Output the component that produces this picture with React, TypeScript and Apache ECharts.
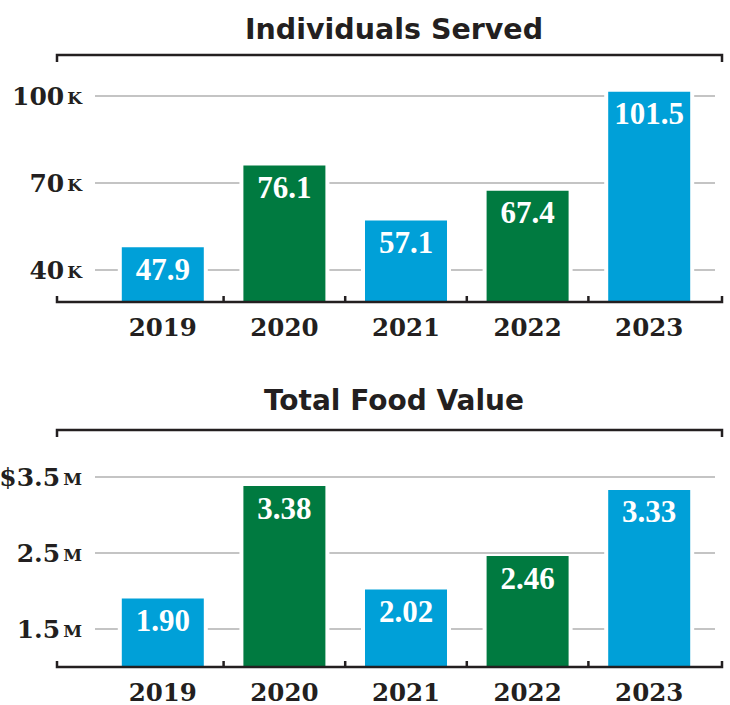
import React, { useEffect, useRef } from "react";
import * as echarts from "echarts";

const years = ["2019", "2020", "2021", "2022", "2023"];
const individualsServed = [47.9, 76.1, 57.1, 67.4, 101.5]; // thousands
const totalFoodValue = [1.9, 3.38, 2.02, 2.46, 3.33]; // millions $
const individualsTicks = [40, 70, 100];
const foodTicks = [1.5, 2.5, 3.5];

const BLUE = "#00a0d8";
const GREEN = "#007a40";
const DARK = "#231f20";
const GRID = "#c4c4c4";
const barColors = [BLUE, GREEN];

const SERIF = "DejaVu Serif";
const BARFONT = "Liberation Serif";
const TITLEFONT = "DejaVu Sans";

function barRenderer(decimals: number) {
  return (params: any, api: any) => {
    const idx = api.value(0);
    const val = api.value(1);
    const top = api.coord([idx, val]);
    const cs = params.coordSys;
    const baseY = cs.y + cs.height;
    const band = api.size([1, 0])[0];
    const children: any[] = [
      {
        type: "rect",
        shape: { x: top[0] - 45, y: top[1], width: 90, height: baseY - top[1] },
        style: { fill: "#fff" },
      },
      {
        type: "rect",
        shape: { x: top[0] - 41, y: top[1], width: 82, height: baseY - top[1] },
        style: { fill: barColors[idx % 2] },
      },
      {
        type: "text",
        x: top[0],
        y: top[1] + 22,
        style: {
          text: val.toFixed(decimals),
          fill: "#fff",
          fontFamily: BARFONT,
          fontWeight: "bold",
          fontSize: 31,
          align: "center",
          verticalAlign: "middle",
        },
      },
    ];
    if (idx > 0) {
      const bx = top[0] - band / 2;
      children.push({
        type: "line",
        shape: { x1: bx, y1: baseY - 6, x2: bx, y2: baseY },
        style: { stroke: DARK, lineWidth: 2.5 },
      });
    }
    return { type: "group", children };
  };
}

function gridRenderer(params: any, api: any) {
  const v = api.value(1);
  const p = api.coord([0, v]);
  const cs = params.coordSys;
  return {
    type: "line",
    shape: { x1: cs.x - 7, y1: p[1], x2: cs.x + cs.width + 5, y2: p[1] },
    style: { stroke: GRID, lineWidth: 2 },
  };
}

function frame(top: number, bottom: number) {
  return [
    {
      type: "polyline",
      shape: { points: [[57, top + 7], [57, top], [722, top], [722, top + 7]] },
      style: { stroke: DARK, lineWidth: 2.5, fill: null },
      z: 10,
    },
    {
      type: "polyline",
      shape: { points: [[57, bottom - 6], [57, bottom], [722, bottom], [722, bottom - 6]] },
      style: { stroke: DARK, lineWidth: 2.5, fill: null },
      z: 10,
    },
  ];
}

const TOP1 = 55, H1 = 247;
const TOP2 = 430, H2 = 237;
const MIN1 = 29, PX1 = 2.9;
const MIN2 = 1.0, PX2 = 76;

export default function App() {
  const ref = useRef<HTMLDivElement>(null);
  useEffect(() => {
    if (!ref.current) return;
    const chart = echarts.init(ref.current, null, { renderer: "svg" });
    const xAxisBase = {
      type: "category",
      data: years,
      axisLine: { show: false },
      axisTick: { show: false },
      axisLabel: {
        color: DARK,
        fontFamily: SERIF,
        fontWeight: "bold",
        fontSize: 24.5,
        lineHeight: 22,
        margin: 14,
      },
    };
    const yLabelRich = {
      n: { fontFamily: SERIF, fontWeight: "bold", fontSize: 25, color: DARK },
      u: { fontFamily: SERIF, fontWeight: "bold", fontSize: 17, color: DARK, padding: [3, 0, 0, 3] },
    };
    chart.setOption({
      animation: false,
      title: [
        {
          text: "Individuals Served",
          left: 389,
          top: 10,
          textAlign: "center",
          textStyle: { fontFamily: TITLEFONT, fontWeight: "bold", fontSize: 28.5, color: DARK },
        },
        {
          text: "Total Food Value",
          left: 389,
          top: 381,
          textAlign: "center",
          textStyle: { fontFamily: TITLEFONT, fontWeight: "bold", fontSize: 28, color: DARK },
        },
      ],
      grid: [
        { left: 102, width: 608, top: TOP1, height: H1, outerBoundsMode: "none", containLabel: false },
        { left: 102, width: 608, top: TOP2, height: H2, outerBoundsMode: "none", containLabel: false },
      ],
      xAxis: [
        { ...xAxisBase, gridIndex: 0 },
        { ...xAxisBase, gridIndex: 1 },
      ],
      yAxis: [
        {
          type: "value",
          gridIndex: 0,
          min: MIN1,
          max: MIN1 + H1 / PX1,
          axisLine: { show: false },
          axisTick: { show: false, customValues: individualsTicks },
          splitLine: { show: false },
          axisLabel: {
            customValues: individualsTicks,
            margin: 20,
            formatter: (v: number) => `{n|${v}}{u|K}`,
            rich: yLabelRich,
          },
        },
        {
          type: "value",
          gridIndex: 1,
          min: MIN2,
          max: MIN2 + H2 / PX2,
          axisLine: { show: false },
          axisTick: { show: false, customValues: foodTicks },
          splitLine: { show: false },
          axisLabel: {
            customValues: foodTicks,
            margin: 20,
            formatter: (v: number) => `{n|${v === 3.5 ? "$" : ""}${v.toFixed(1)}}{u|M}`,
            rich: yLabelRich,
          },
        },
      ],
      series: [
        {
          type: "custom",
          xAxisIndex: 0,
          yAxisIndex: 0,
          z: 1,
          silent: true,
          data: individualsTicks.map((t) => [0, t]),
          renderItem: gridRenderer,
        },
        {
          type: "custom",
          xAxisIndex: 1,
          yAxisIndex: 1,
          z: 1,
          silent: true,
          data: foodTicks.map((t) => [0, t]),
          renderItem: gridRenderer,
        },
        {
          type: "custom",
          name: "Individuals Served",
          xAxisIndex: 0,
          yAxisIndex: 0,
          z: 2,
          data: individualsServed.map((v, i) => [i, v]),
          renderItem: barRenderer(1),
        },
        {
          type: "custom",
          name: "Total Food Value",
          xAxisIndex: 1,
          yAxisIndex: 1,
          z: 2,
          data: totalFoodValue.map((v, i) => [i, v]),
          renderItem: barRenderer(2),
        },
      ],
      graphic: [...frame(TOP1, TOP1 + H1), ...frame(TOP2, TOP2 + H2)],
    });
    return () => chart.dispose();
  }, []);
  return (
    <div
      ref={ref}
      style={{ position: "fixed", left: 0, top: 0, width: 730, height: 705, background: "#fff" }}
    />
  );
}
